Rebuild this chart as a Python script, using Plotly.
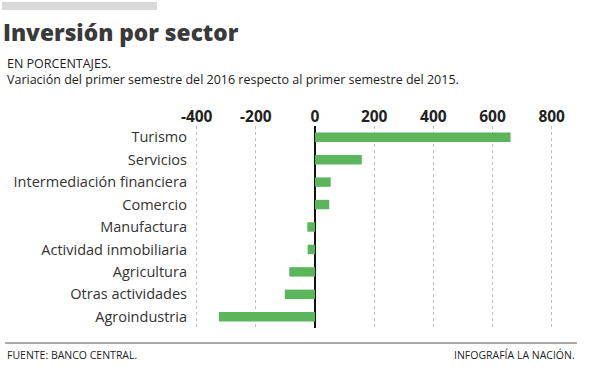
import plotly.graph_objects as go

categories = ["Turismo", "Servicios", "Intermediación financiera", "Comercio",
              "Manufactura", "Actividad inmobiliaria", "Agricultura",
              "Otras actividades", "Agroindustria"]
values = [661, 158, 53, 48, -26, -25, -87, -102, -325]
tick_vals = [-400, -200, 0, 200, 400, 600, 800]

W, H = 595, 375
L, R, T, B = 190, 30, 126, 47
pw, ph = W - L - R, H - T - B

def px(x):
    return (x - L) / pw

def py(y):
    return (H - B - y) / ph

FONT = "Open Sans"

fig = go.Figure(go.Bar(
    x=values, y=categories, orientation="h",
    marker=dict(color="#5bb55b", line=dict(width=0)),
    width=0.42, hoverinfo="x+y"))

fig.update_layout(
    width=W, height=H, margin=dict(l=L, r=R, t=T, b=B),
    paper_bgcolor="white", plot_bgcolor="white", showlegend=False,
    font=dict(family=FONT, color="#333333"),
    xaxis=dict(side="top", range=[-422.6, 845], tickvals=tick_vals,
               ticktext=[str(v) for v in tick_vals],
               tickfont=dict(family=FONT, size=15.5, color="#222222", weight="bold"),
               showgrid=True, gridcolor="#bdbdbd", griddash="dot", gridwidth=1,
               zeroline=True, zerolinecolor="#111111", zerolinewidth=2,
               showline=False, ticks="", fixedrange=True),
    yaxis=dict(categoryorder="array", categoryarray=categories[::-1],
               range=[-0.5, len(categories) - 0.5],
               tickfont=dict(family=FONT, size=14.5, color="#333333"),
               showgrid=False, zeroline=False, showline=False, ticks="",
               ticklabelstandoff=2, fixedrange=True),
    shapes=[
        dict(type="rect", xref="paper", yref="paper", x0=px(2), x1=px(157),
             y0=py(10), y1=py(2), fillcolor="#d9d9d9", line=dict(width=0)),
        dict(type="line", xref="paper", yref="paper", x0=px(5), x1=px(577),
             y0=py(343), y1=py(343), line=dict(color="#555555", width=1)),
    ],
    annotations=[
        dict(text="Inversión por sector", xref="paper", yref="paper",
             x=px(1), y=py(32), xanchor="left", yanchor="middle", showarrow=False,
             font=dict(family=FONT, size=22.7, color="#3a3a3a", weight=800)),
        dict(text="EN PORCENTAJES.", xref="paper", yref="paper",
             x=px(5), y=py(64), xanchor="left", yanchor="middle", showarrow=False,
             font=dict(family=FONT, size=12.5, color="#222222")),
        dict(text="Variación del primer semestre del 2016 respecto al primer semestre del 2015.",
             xref="paper", yref="paper",
             x=px(5), y=py(79), xanchor="left", yanchor="middle", showarrow=False,
             font=dict(family=FONT, size=12.5, color="#222222")),
        dict(text="FUENTE: BANCO CENTRAL.", xref="paper", yref="paper",
             x=px(5), y=py(355), xanchor="left", yanchor="middle", showarrow=False,
             font=dict(family=FONT, size=10.5, color="#222222")),
        dict(text="INFOGRAFÍA LA NACIÓN.", xref="paper", yref="paper",
             x=px(577), y=py(355), xanchor="right", yanchor="middle", showarrow=False,
             font=dict(family=FONT, size=10.5, color="#222222")),
    ],
)

fig.write_html("out.html", config={"displayModeBar": False},
               post_script="document.body.style.margin='0';document.body.style.padding='0';")
